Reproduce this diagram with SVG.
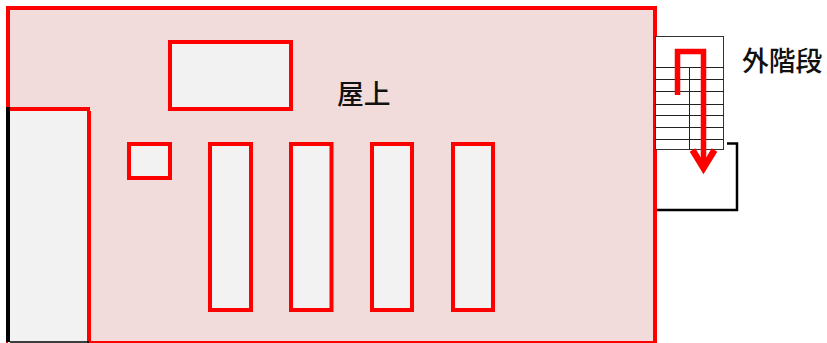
<svg xmlns="http://www.w3.org/2000/svg" width="827" height="343" viewBox="0 0 827 343">
<style>
.r{fill:#f2f2f2;stroke:#ff0000;stroke-width:4}
.t{font-family:"Noto Sans CJK JP","Noto Sans CJK SC",sans-serif;font-size:26.800px;font-weight:500;fill:#111}
.l{stroke:#222;stroke-width:1;fill:none}
</style>
<rect width="827" height="343" fill="#fff"/>
<g id="roof"><rect x="8" y="8" width="647" height="335" fill="#f2dcdb" stroke="#ff0000" stroke-width="4"/></g>
<g id="core">
<rect x="8" y="109" width="80.500" height="234" fill="#f2f2f2"/>
<path d="M10 109H90" stroke="#ff0000" stroke-width="4" fill="none"/>
<path d="M89 111V343" stroke="#ff0000" stroke-width="4" fill="none"/>
<path d="M8 107V342" stroke="#000" stroke-width="4" fill="none"/>
<path d="M10 342H89" stroke="#000" stroke-width="1.500" fill="none"/>
</g>
<g id="unit-large"><rect class="r" x="170" y="42" width="121" height="67"/></g>
<g id="unit-small"><rect class="r" x="129" y="144" width="41" height="34"/></g>
<g id="unit-1"><rect class="r" x="210" y="144" width="41" height="166"/></g>
<g id="unit-2"><rect class="r" x="291" y="144" width="40.500" height="166"/></g>
<g id="unit-3"><rect class="r" x="372" y="144" width="40" height="166"/></g>
<g id="unit-4"><rect class="r" x="453" y="144" width="40" height="166"/></g>
<g id="stair">
<path d="M657 210H737V143.500H727" fill="none" stroke="#000" stroke-width="2.500"/>
<rect x="655.500" y="36.500" width="68" height="113" fill="#fff" stroke="#333" stroke-width="1"/>
<path class="l" d="M655 67.500H724M655 79.500H724M655 91.500H724M655 104.500H724M655 115.500H724M655 127.500H724M655 139.500H724M689.500 67V150"/>
</g>
<g id="connectors">
<path d="M677.500 95V51.500H703.500V168" fill="none" stroke="#ff0000" stroke-width="5.500"/>
<path d="M692.500 150L703.500 168L714.500 150" fill="none" stroke="#ff0000" stroke-width="6.500"/>
</g>
<g id="labels">
<text class="t" x="337" y="104">屋上</text>
<text class="t" x="742" y="71">外階段</text>
</g>
</svg>
